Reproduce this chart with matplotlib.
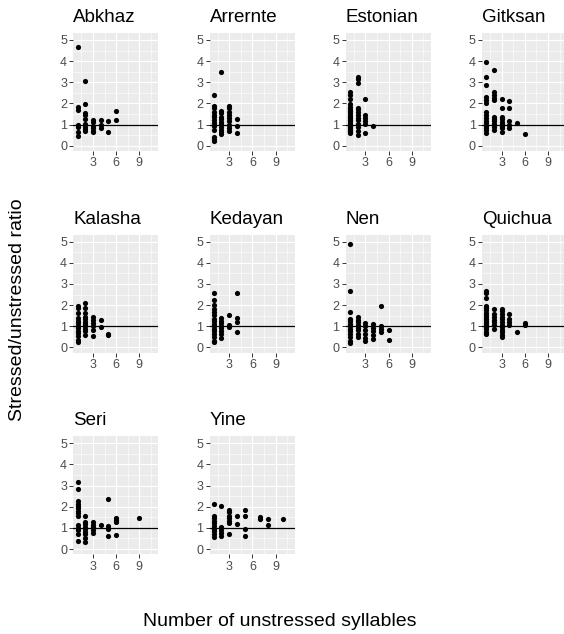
import matplotlib.pyplot as plt
import numpy as np

plt.rcParams['font.family'] = ['Liberation Sans', 'DejaVu Sans']

# Points per language: {unstressed syllables: [stressed/unstressed ratios]}
languages = ["Abkhaz", "Arrernte", "Estonian", "Gitksan", "Kalasha",
             "Kedayan", "Nen", "Quichua", "Seri", "Yine"]

abkhaz = {1: [4.68, 1.82, 1.68, 1.0, 0.9, 0.65, 0.45],
          2: [3.05, 1.97, 1.55, 1.45, 1.25, 1.05, 0.9, 0.78, 0.7],
          3: [1.2, 1.1, 0.95, 0.82, 0.7, 0.65],
          4: [1.2, 1.0, 0.85],
          5: [1.15, 0.65],
          6: [1.62, 1.22]}
arrernte = {1: [2.38, 1.9, 1.78, 1.6, 1.45, 1.35, 1.2, 1.08, 0.95, 0.75, 0.42, 0.3, 0.2],
            2: [3.5, 1.65, 1.55, 1.38, 1.25, 1.13, 1.03, 0.9, 0.74, 0.63, 0.55],
            3: [1.88, 1.78, 1.6, 1.45, 1.3, 1.15, 0.98, 0.82, 0.68],
            4: [1.27, 0.95, 0.6]}
estonian = {1: [2.55, 2.4, 2.2, 1.97, 1.85, 1.75, 1.65, 1.55, 1.45, 1.38, 1.3, 1.22,
                1.15, 1.08, 1.0, 0.95, 0.9, 0.85, 0.8, 0.75, 0.7, 0.65, 0.6],
            2: [3.25, 3.15, 2.98, 1.8, 1.72, 1.6, 1.45, 1.33, 1.2, 1.05, 0.9, 0.7, 0.52],
            3: [2.22, 1.45, 1.33, 1.18, 1.03, 0.62],
            4: [0.95]}
gitksan = {1: [3.95, 3.27, 2.85, 2.3, 2.15, 2.0, 1.6, 1.45, 1.3, 1.18, 1.07, 0.95,
               0.85, 0.74, 0.6],
           2: [3.6, 2.55, 2.4, 2.25, 2.15, 1.38, 1.25, 1.15, 1.03, 0.9, 0.75],
           3: [2.2, 1.76, 1.38, 1.25, 1.13, 1.03, 0.94, 0.82, 0.65],
           4: [2.1, 1.76, 1.18, 0.98, 0.83],
           5: [1.07],
           6: [0.55]}
kalasha = {1: [1.98, 1.85, 1.62, 1.38, 1.27, 1.15, 1.03, 0.92, 0.79, 0.68, 0.52, 0.37, 0.25],
           2: [2.1, 1.85, 1.62, 1.45, 1.34, 1.22, 1.1, 1.0, 0.87, 0.76, 0.6],
           3: [1.42, 1.3, 1.15, 1.0, 0.84, 0.52],
           4: [1.28, 0.97],
           5: [0.65, 0.57]}
kedayan = {1: [2.58, 2.26, 2.0, 1.84, 1.68, 1.52, 1.36, 1.25, 1.12, 1.0, 0.88, 0.76,
               0.64, 0.48, 0.32, 0.25],
           2: [1.38, 1.27, 1.15, 1.02, 0.9, 0.78, 0.62, 0.45],
           3: [1.52, 1.05, 0.95],
           4: [2.55, 1.38, 1.22, 0.72]}
nen = {1: [4.9, 2.68, 1.68, 1.36, 1.25, 1.12, 1.0, 0.88, 0.76, 0.64, 0.48, 0.32, 0.2],
       2: [1.44, 1.31, 1.18, 1.06, 0.93, 0.8, 0.64, 0.5],
       3: [1.15, 1.0, 0.83, 0.64, 0.45, 0.29],
       4: [1.09, 0.93, 0.77, 0.58, 0.4],
       5: [1.95, 1.0, 0.88, 0.72],
       6: [0.8, 0.35]}
quichua = {1: [2.68, 2.55, 2.35, 1.95, 1.85, 1.75, 1.65, 1.55, 1.45, 1.35, 1.25, 1.15,
               1.05, 0.95, 0.85, 0.75, 0.65],
           2: [1.84, 1.6, 1.44, 1.31, 1.18, 1.06, 0.88],
           3: [1.84, 1.7, 1.58, 1.45, 1.32, 1.2, 1.08, 0.96, 0.84, 0.72, 0.6, 0.5],
           4: [1.6, 1.36, 1.2, 1.04],
           5: [0.72],
           6: [1.17, 1.07]}
seri = {1: [3.18, 2.85, 2.28, 2.15, 2.05, 1.92, 1.8, 1.69, 1.58, 1.15, 1.0, 0.88, 0.69, 0.38],
        2: [1.54, 1.3, 1.18, 1.06, 0.94, 0.82, 0.69, 0.51, 0.35],
        3: [1.28, 1.15, 1.03, 0.89, 0.78],
        4: [1.12],
        5: [2.38, 1.11, 0.95, 0.62],
        6: [1.49, 1.38, 1.28, 0.65],
        9: [1.49]}
yine = {1: [2.12, 1.58, 1.46, 1.34, 1.21, 1.09, 0.96, 0.84, 0.71, 0.59],
        2: [2.02, 1.04, 0.92, 0.76, 0.61],
        3: [1.86, 1.74, 1.58, 1.46, 1.34, 1.21, 0.71],
        4: [1.55, 1.2],
        5: [1.86, 1.58, 0.96, 0.62],
        7: [1.5, 1.43],
        8: [1.4, 1.12],
        10: [1.4]}

data = [abkhaz, arrernte, estonian, gitksan, kalasha, kedayan, nen, quichua, seri, yine]

x_ticks = [3, 6, 9]
y_ticks = [0, 1, 2, 3, 4, 5]

W, H = 564, 634
fig = plt.figure(figsize=(W / 100, H / 100), dpi=100)

col_left = [73.3, 209.5, 345.7, 481.9]
row_top = [33, 234.7, 436.3]
pw, ph = 85, 118

for i, (name, d) in enumerate(zip(languages, data)):
    r, c = divmod(i, 4)
    ax = fig.add_axes([col_left[c] / W, 1 - (row_top[r] + ph) / H, pw / W, ph / H])
    ax.set_facecolor('#EBEBEB')
    for s in ax.spines.values():
        s.set_visible(False)
    ax.set_xlim(0.45, 11.45)
    ax.set_ylim(-0.25, 5.33)
    ax.set_xticks(x_ticks)
    ax.set_yticks(y_ticks)
    ax.set_xticks([1.5, 4.5, 7.5, 10.5], minor=True)
    ax.set_yticks([0.5, 1.5, 2.5, 3.5, 4.5], minor=True)
    ax.grid(which='major', color='white', linewidth=0.8)
    ax.grid(which='minor', color='white', linewidth=0.4)
    ax.set_axisbelow(True)
    ax.tick_params(which='major', length=2.7, width=0.7, color='#333333',
                   labelsize=9, labelcolor='#4D4D4D', pad=1.8)
    ax.tick_params(which='minor', length=0)

    xs, ys = [], []
    for k, vals in d.items():
        xs += [k] * len(vals)
        ys += vals
    ax.axhline(1, color='black', linewidth=0.9, zorder=2)
    ax.scatter(xs, ys, s=14, color='black', linewidths=0, zorder=3)
    ax.set_title(name, loc='left', fontsize=13.5, pad=8)

fig.text(18 / W, 1 - 310 / H, "Stressed/unstressed ratio", rotation=90,
         ha='center', va='center', fontsize=14)
fig.text(280 / W, 1 - 622 / H, "Number of unstressed syllables",
         ha='center', va='center', fontsize=14)

plt.savefig("out.png", dpi=100)
plt.close()
